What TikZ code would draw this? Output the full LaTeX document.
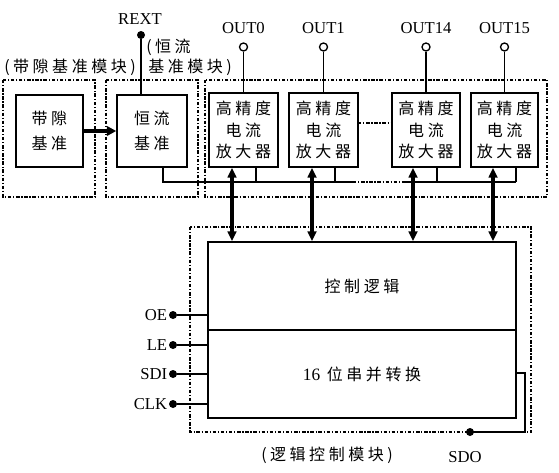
\documentclass[tikz,border=0pt]{standalone}
\usepackage{fontspec}
\setmainfont{Liberation Serif}
\newfontfamily\cjk[LetterSpace=22]{Noto Sans CJK SC}
\usetikzlibrary{arrows.meta}
\begin{document}
\begin{tikzpicture}[x=0.75pt,y=-0.75pt,
  blk/.style={draw, line width=1.1pt, inner sep=0pt, align=center,
    font=\cjk\fontsize{12}{16}\selectfont},
  module/.style={draw, line width=1.6pt, dash pattern=on 2.6pt off 1.3pt on 0.9pt off 1.3pt},
  dashlink/.style={draw, line width=1.1pt, dash pattern=on 2.6pt off 1.3pt on 0.9pt off 1.3pt},
  thickarr/.style={line width=2.6pt, -{Triangle[length=7pt,width=7pt]}},
  dbl/.style={line width=2.3pt, {Triangle[length=7.5pt,width=6.5pt]}-{Triangle[length=7.5pt,width=6.5pt]}},
  bus/.style={line width=0.8pt},
  idot/.style={circle, fill=black, inner sep=0pt, minimum size=6pt},
  opin/.style={circle, draw, line width=1pt, fill=white, inner sep=0pt, minimum size=6pt},
  lat/.style={font=\fontsize{12.5}{14}\selectfont, inner sep=1pt},
  cjklab/.style={font=\cjk\fontsize{12}{16}\selectfont, inner sep=0pt}
]
\useasboundingbox (0,0) rectangle (559,472);

% module frames
\draw[module] (3,80) rectangle (95,197);
\draw[module] (106,80) rectangle (198,197);
\draw[module] (205,80) rectangle (547,197);
\draw[module] (190,227) rectangle (531,432);

% module labels
\node[cjklab] (lbg) at (70,67) {(带隙基准模块)};
\node[cjklab, anchor=west] (lcc1) at (146,47) {(恒流};
\node[cjklab, anchor=west] (lcc2) at (148,67) {基准模块)};
\node[cjklab] (llg) at (327,455) {(逻辑控制模块)};

% blocks
\node[blk, minimum width=50.25pt, minimum height=54pt, font=\cjk\fontsize{12}{19}\selectfont] (bg) at (49.5,131) {带隙\\基准};
\node[blk, minimum width=52.5pt, minimum height=54pt, font=\cjk\fontsize{12}{19}\selectfont] (cc) at (152,131) {恒流\\基准};
\node[blk, minimum width=51.75pt, minimum height=55.5pt] (a0) at (243.5,130) {高精度\\电流\\放大器};
\node[blk, minimum width=51.75pt, minimum height=55.5pt] (a1) at (323.5,130) {高精度\\电流\\放大器};
\node[blk, minimum width=51pt, minimum height=55.5pt] (a14) at (426,130) {高精度\\电流\\放大器};
\node[blk, minimum width=50.25pt, minimum height=55.5pt] (a15) at (504.5,130) {高精度\\电流\\放大器};
\node[blk, minimum width=231pt, minimum height=66pt] (ctrl) at (362,286) {控制逻辑};
\node[blk, minimum width=231pt, minimum height=66pt] (sp) at (362,374) {{\rmfamily\fontsize{13}{16}\selectfont 16}\hspace{5pt}位串并转换};

% band gap -> constant current
\draw[thickarr] (bg.east) -- (cc.west);

% REXT
\node[idot] (rext) at (141,35) {};
\node[lat] (lrext) at (140,19) {REXT};
\draw[line width=2.2pt] (rext) -- (rext |- cc.north);

% OUT pins
\foreach \n/\lab in {a0/OUT0, a1/OUT1, a14/OUT14, a15/OUT15}{
  \node[opin] (p\n) at (\n.north |- 0,47) {};
  \node[lat] (l\n) at (\n.north |- 0,28) {\lab};
  \draw[line width=1pt] (p\n) -- (\n.north);
}

% internal bus
\coordinate (b0) at (163,182);
\coordinate (b1) at (353,182);
\coordinate (b2) at (403,182);
\coordinate (s0) at (256,182);
\coordinate (s1) at (335,182);
\coordinate (s2) at (437,182);
\coordinate (s3) at (516,182);
\draw[bus] (b0 |- cc.south) -- (b0) -- (b1);
\draw[dashlink] (b1) -- (b2);
\draw[bus] (b2) -- (s3);
\draw[bus] (s0 |- a0.south) -- (s0);
\draw[bus] (s1 |- a1.south) -- (s1);
\draw[bus] (s2 |- a14.south) -- (s2);
\draw[bus] (s3 |- a15.south) -- (s3);

% dash-dot link between OUT1 and OUT14 amplifiers
\coordinate (d1) at (358,123);
\coordinate (d2) at (392,123);
\draw[dashlink] (d1) -- (d2);

% double arrows
\coordinate (v0) at (232,0);
\coordinate (v1) at (312,0);
\coordinate (v2) at (413,0);
\coordinate (v3) at (493,0);
\draw[dbl] (v0 |- a0.south) -- (v0 |- ctrl.north);
\draw[dbl] (v1 |- a1.south) -- (v1 |- ctrl.north);
\draw[dbl] (v2 |- a14.south) -- (v2 |- ctrl.north);
\draw[dbl] (v3 |- a15.south) -- (v3 |- ctrl.north);

% inputs
\foreach \n/\lab/\y in {oe/OE/315, le/LE/345, sdi/SDI/374, clk/CLK/404}{
  \node[idot] (\n) at (173,\y) {};
  \node[lat, anchor=east] (l\n) at (\n.west) {\lab};
  \draw[line width=2pt] (\n) -- (\n -| sp.west);
}

% SDO
\node[idot] (sdo) at (470,432) {};
\node[lat] (lsdo) at (465,457) {SDO};
\coordinate (k1) at (525,373);
\draw[line width=1.6pt] (k1 -| sp.east) -- (k1) |- (sdo);
\end{tikzpicture}
\end{document}
